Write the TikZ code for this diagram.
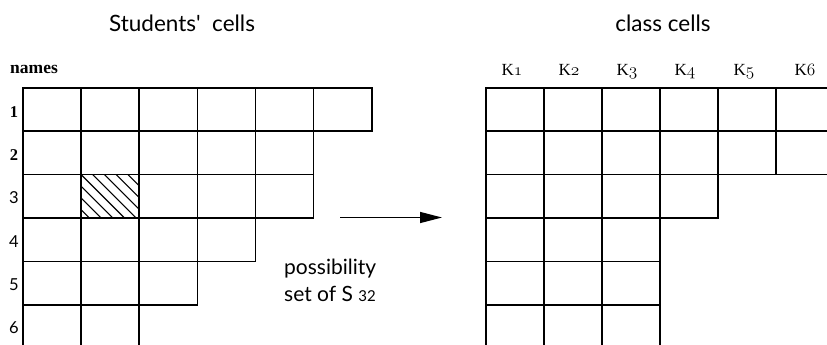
\documentclass[tikz,border=0pt]{standalone}
\usepackage{fontspec}
\setmainfont{Liberation Serif}
\newfontfamily\titlefont{Lato}
\newcommand\osdig[1]{{\usefont{OML}{cmm}{m}{it}#1}}
\usetikzlibrary{arrows.meta}
\tikzset{
  grid/.style={line width=1.3pt, line cap=rect},
  title/.style={font=\titlefont\fontsize{22.5}{22.5}\selectfont, inner sep=0pt},
  rowlab/.style={font=\bfseries\fontsize{16.5}{16.5}\selectfont, anchor=base, inner sep=0pt},
  rowlabs/.style={font=\titlefont\fontsize{16.5}{16.5}\selectfont, anchor=base, inner sep=0pt},
  collab/.style={font=\fontsize{17}{17}\selectfont, anchor=base, inner sep=0pt},
  note/.style={font=\titlefont\fontsize{21}{21}\selectfont, anchor=base west, inner sep=0pt},
  hatch/.style={line width=1.1pt},
  flow/.style={line width=1.4pt, -{Triangle[length=22pt,width=11pt]}}
}
\begin{document}
\begin{tikzpicture}[x=1pt,y=-1pt]
\useasboundingbox (0,0) rectangle (827,345);
% titles
\node[title] (t1) at (182,23) {Students\textquotesingle\ \ cells};
\node[title] (t2) at (663,23) {class cells};
\node[font=\bfseries\fontsize{17.5}{17.5}\selectfont, anchor=base west, inner sep=0pt] (names) at (10,74) {names};
% row labels
\node[rowlab] (r1) at (14,117) {1};
\node[rowlab] (r2) at (14,160) {2};
\node[rowlabs] (r3) at (14,203.5) {3};
\node[rowlabs] (r4) at (14,247) {4};
\node[rowlabs] (r5) at (14,290) {5};
\node[rowlabs] (r6) at (14,333.5) {6};
% column labels
\node[collab] (k1) at (512,75) {K\osdig{1}};
\node[collab] (k2) at (569,75) {K\osdig{2}};
\node[collab] (k3) at (627,75) {K\osdig{3}};
\node[collab] (k4) at (685,75) {K\osdig{4}};
\node[collab] (k5) at (744,75) {K\osdig{5}};
\node[collab] (k6) at (805,75) {K\osdig{6}};
% left grid
\def\ya{88}\def\yb{131}\def\yc{174.5}\def\yd{218}\def\ye{261.5}\def\yf{305}
\begin{scope}[grid]
  \draw (23,\ya) rectangle (81,\yb) (81,\ya) rectangle (139,\yb) (139,\ya) rectangle (197.5,\yb)
        (197.5,\ya) rectangle (255.5,\yb) (255.5,\ya) rectangle (313.5,\yb) (313.5,\ya) rectangle (372,\yb);
  \draw (23,\yb) rectangle (81,\yc) (81,\yb) rectangle (139,\yc) (139,\yb) rectangle (197.5,\yc)
        (197.5,\yb) rectangle (255.5,\yc) (255.5,\yb) rectangle (313.5,\yc);
  \draw (23,\yc) rectangle (81,\yd) (81,\yc) rectangle (139,\yd) (139,\yc) rectangle (197.5,\yd)
        (197.5,\yc) rectangle (255.5,\yd) (255.5,\yc) rectangle (313.5,\yd);
  \draw (23,\yd) rectangle (81,\ye) (81,\yd) rectangle (139,\ye) (139,\yd) rectangle (197.5,\ye)
        (197.5,\yd) rectangle (255.5,\ye);
  \draw (23,\ye) rectangle (81,\yf) (81,\ye) rectangle (139,\yf) (139,\ye) rectangle (197.5,\yf);
  \draw (23,344.3) -- (23,\yf) -- (139,\yf) -- (139,344.3) (81,\yf) -- (81,344.3);
\end{scope}
% hatched cell
\begin{scope}
  \clip (81,\yc) rectangle (139,\yd);
  \foreach \c in {-46.8,-35.1,...,60} \draw[hatch] (81+\c-50,\yc-50) -- ++(110,110);
\end{scope}
% right grid
\begin{scope}[grid]
  \draw (827,\ya) -- (486,\ya) -- (486,344.3);
  \draw (486,\yb) -- (827,\yb);
  \draw (486,\yc) -- (827,\yc);
  \foreach \x in {544,602,660,718,776} \draw (\x,\ya) -- (\x,\yc);
  \draw (486,\yd) -- (718,\yd) -- (718,\yc);
  \draw (544,\yc) -- (544,344.3) (602,\yc) -- (602,344.3) (660,\yc) -- (660,344.3);
  \draw (486,\ye) -- (660,\ye) (486,\yf) -- (660,\yf);
\end{scope}
% arrow
\coordinate (a1) at (340,217.5);
\coordinate (a2) at (442,217.5);
\draw[flow] (a1) -- (a2);
\node[note] (n1) at (284,274) {possibility};
\node[note] (n2) at (284,301) {set of S {\fontsize{15}{15}\selectfont 32}};
\end{tikzpicture}
\end{document}
